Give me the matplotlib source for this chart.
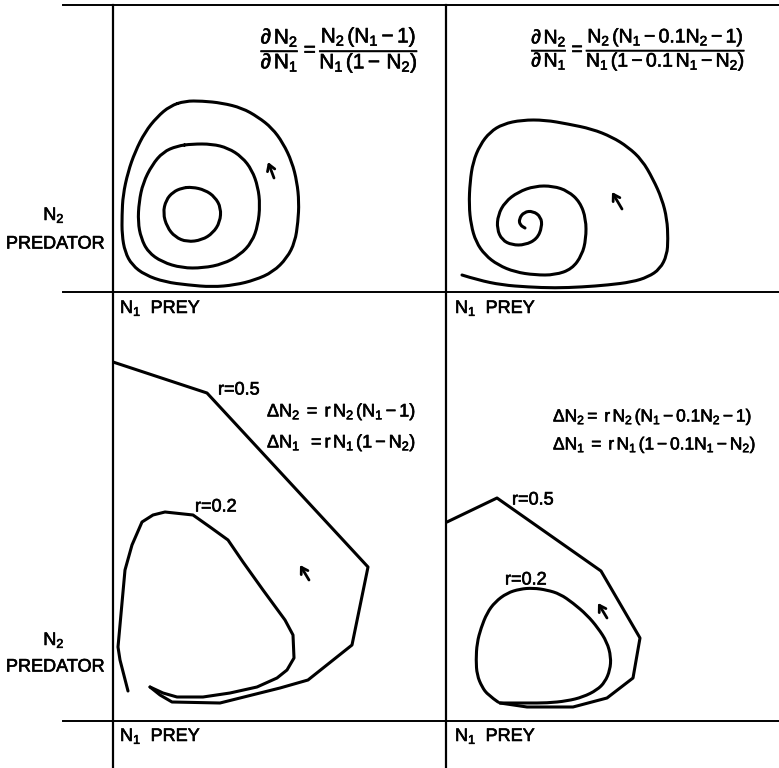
import matplotlib
matplotlib.use("Agg")
import matplotlib.pyplot as plt
import matplotlib.patheffects as pe
from matplotlib.lines import Line2D
from matplotlib.path import Path
from matplotlib.patches import PathPatch

plt.rcParams['font.family'] = ['Liberation Sans', 'DejaVu Sans']
plt.rcParams['mathtext.fontset'] = 'custom'
plt.rcParams['mathtext.rm'] = 'Liberation Sans'
plt.rcParams['mathtext.it'] = 'Liberation Sans'
plt.rcParams['mathtext.bf'] = 'Liberation Sans:bold'

# --- continuous model: closed orbits (N1 prey, N2 predator) ---
orbit_outer_n1 = [0.72, 0.89, 1.09, 1.29, 1.45, 1.59, 1.70, 1.79, 1.84, 1.86, 1.85, 1.82,
                  1.74, 1.60, 1.42, 1.22, 0.99, 0.75, 0.52, 0.32, 0.19, 0.12, 0.09, 0.09,
                  0.10, 0.15, 0.22, 0.32, 0.44, 0.57, 0.72]
orbit_outer_n2 = [1.91, 1.91, 1.89, 1.84, 1.75, 1.64, 1.49, 1.30, 1.10, 0.90, 0.70, 0.50,
                  0.34, 0.20, 0.12, 0.07, 0.05, 0.07, 0.10, 0.17, 0.27, 0.40, 0.57, 0.77,
                  0.97, 1.20, 1.40, 1.60, 1.75, 1.86, 1.91]
orbit_mid_n1 = [0.79, 0.99, 1.15, 1.29, 1.39, 1.45, 1.47, 1.45, 1.39, 1.27, 1.10, 0.90,
                0.69, 0.49, 0.35, 0.28, 0.25, 0.26, 0.30, 0.39, 0.50, 0.64, 0.79]
orbit_mid_n2 = [1.48, 1.48, 1.44, 1.35, 1.22, 1.05, 0.87, 0.67, 0.50, 0.37, 0.28, 0.24,
                0.24, 0.30, 0.40, 0.54, 0.70, 0.90, 1.09, 1.27, 1.40, 1.46, 1.48]
orbit_inner_n1 = [0.79, 0.92, 1.02, 1.08, 1.07, 1.00, 0.89, 0.74, 0.62, 0.54, 0.50, 0.53,
                  0.60, 0.69, 0.79]
orbit_inner_n2 = [1.05, 1.02, 0.95, 0.84, 0.70, 0.59, 0.52, 0.50, 0.55, 0.65, 0.79, 0.92,
                  1.00, 1.04, 1.05]

# --- continuous model with self-limitation: damped spiral ---
spiral_n1 = [0.16, 0.32, 0.56, 0.82, 1.09, 1.36, 1.62, 1.86, 2.02, 2.14, 2.21, 2.22, 2.21,
             2.16, 2.07, 1.96, 1.82, 1.66, 1.46, 1.22, 0.99, 0.76, 0.57, 0.44, 0.34, 0.27,
             0.24, 0.23, 0.25, 0.30, 0.39, 0.52, 0.69, 0.89, 1.09, 1.26, 1.36, 1.40, 1.40,
             1.34, 1.22, 1.07, 0.89, 0.72, 0.59, 0.52, 0.51, 0.56, 0.66, 0.79, 0.91, 0.96,
             0.95, 0.87, 0.78, 0.73, 0.74, 0.79]
spiral_n2 = [0.17, 0.12, 0.07, 0.05, 0.04, 0.05, 0.07, 0.10, 0.15, 0.23, 0.37, 0.53, 0.73,
             0.93, 1.13, 1.32, 1.45, 1.55, 1.63, 1.68, 1.72, 1.72, 1.68, 1.60, 1.47, 1.30,
             1.10, 0.87, 0.67, 0.50, 0.37, 0.27, 0.20, 0.17, 0.17, 0.23, 0.37, 0.53, 0.73,
             0.90, 1.01, 1.06, 1.06, 1.00, 0.90, 0.77, 0.63, 0.52, 0.47, 0.47, 0.53, 0.65,
             0.75, 0.81, 0.80, 0.73, 0.67, 0.64]

# --- difference model, r = 0.5 and r = 0.2 (straight steps) ---
diff_r05_n1 = [0.00, 0.94, 2.55, 2.39, 1.95, 1.67, 1.07, 0.59, 0.47, 0.37]
diff_r05_n2 = [3.59, 3.28, 1.54, 0.76, 0.41, 0.33, 0.18, 0.19, 0.26, 0.34]
diff_r02_n1 = [0.15, 0.07, 0.05, 0.12, 0.19, 0.29, 0.40, 0.52, 0.80, 0.97, 1.15, 1.30,
               1.50, 1.72, 1.80, 1.81, 1.74, 1.64, 1.44, 1.17, 0.90, 0.64, 0.50, 0.37]
diff_r02_n2 = [0.30, 0.61, 0.74, 1.51, 1.76, 1.99, 2.06, 2.09, 2.06, 1.94, 1.81, 1.59,
               1.31, 1.01, 0.86, 0.63, 0.51, 0.43, 0.34, 0.28, 0.24, 0.24, 0.28, 0.34]

# --- difference model with self-limitation ---
dlim_r05_n1 = [0.01, 0.51, 1.55, 1.94, 1.87, 1.61, 1.27, 0.81, 0.54]
dlim_r05_n2 = [1.99, 2.23, 1.50, 0.83, 0.43, 0.23, 0.14, 0.14, 0.18]
dlim_r02_n1 = [0.52, 0.42, 0.36, 0.31, 0.30, 0.31, 0.35, 0.41, 0.49, 0.61, 0.74, 0.87,
               1.01, 1.14, 1.27, 1.41, 1.52, 1.61, 1.65, 1.64, 1.59, 1.51, 1.37, 1.21,
               1.01, 0.81, 0.64, 0.54]
dlim_r02_n2 = [0.19, 0.26, 0.34, 0.46, 0.61, 0.78, 0.93, 1.08, 1.19, 1.28, 1.32, 1.33,
               1.31, 1.27, 1.18, 1.06, 0.93, 0.79, 0.64, 0.51, 0.39, 0.31, 0.24, 0.20,
               0.18, 0.18, 0.18, 0.18]

W, H = 779, 768
fig = plt.figure(figsize=(W / 100, H / 100), dpi=100)
fig.patch.set_facecolor('white')


def fx(x):
    return x / W


def fy(y):
    return 1 - y / H


def panel(left, top, right, bottom):
    ax = fig.add_axes([fx(left), fy(bottom), fx(right - left), (bottom - top) / H])
    ax.set_xlim(0, (right - left) / 100)
    ax.set_ylim(0, (bottom - top) / 100)
    ax.axis('off')
    return ax


def smooth_curve(ax, xs, ys, closed=False):
    # quadratic bezier through the traced points (points act as control points)
    pts = list(zip(xs, ys))
    mid = lambda a, b: ((a[0] + b[0]) / 2, (a[1] + b[1]) / 2)
    if closed:
        p = pts[:-1]
        n = len(p)
        verts = [mid(p[-1], p[0])]
        codes = [Path.MOVETO]
        for i in range(n):
            verts += [p[i], mid(p[i], p[(i + 1) % n])]
            codes += [Path.CURVE3, Path.CURVE3]
    else:
        verts = [pts[0]]
        codes = [Path.MOVETO]
        for i in range(1, len(pts) - 1):
            verts += [pts[i], mid(pts[i], pts[i + 1])]
            codes += [Path.CURVE3, Path.CURVE3]
        verts.append(pts[-1])
        codes.append(Path.LINETO)
    ax.add_patch(PathPatch(Path(verts, codes), fill=False, edgecolor='black', lw=2.2,
                           joinstyle='round', capstyle='round'))


ax_tl = panel(113, 5, 446, 292)
ax_tr = panel(446, 5, 779, 292)
ax_bl = panel(113, 292, 446, 721)
ax_br = panel(446, 292, 779, 721)

# frame lines of the 2x2 layout
for y in (5, 292, 721):
    fig.add_artist(Line2D([fx(63), fx(779)], [fy(y), fy(y)], color='black', lw=1.4,
                          transform=fig.transFigure))
for x in (113, 446):
    fig.add_artist(Line2D([fx(x), fx(x)], [fy(5), fy(768)], color='black', lw=1.6,
                          transform=fig.transFigure))

line_kw = dict(color='black', lw=2.2, solid_joinstyle='round', solid_capstyle='round')

smooth_curve(ax_tl, orbit_outer_n1, orbit_outer_n2, closed=True)
smooth_curve(ax_tl, orbit_mid_n1, orbit_mid_n2, closed=True)
smooth_curve(ax_tl, orbit_inner_n1, orbit_inner_n2, closed=True)
smooth_curve(ax_tr, spiral_n1, spiral_n2)
ax_bl.plot(diff_r05_n1, diff_r05_n2, **line_kw)
ax_bl.plot(diff_r02_n1, diff_r02_n2, **line_kw)
ax_br.plot(dlim_r05_n1, dlim_r05_n2, **line_kw)
smooth_curve(ax_br, dlim_r02_n1, dlim_r02_n2)

# direction arrows
arrow_kw = dict(arrowstyle='->,head_length=0.45,head_width=0.28', color='black', lw=2.0,
                shrinkA=0, shrinkB=0)
for ax, head, tail in ((ax_tl, (1.55, 1.30), (1.61, 1.14)),
                       (ax_tr, (1.66, 1.00), (1.76, 0.83)),
                       (ax_bl, (1.87, 1.56), (1.96, 1.41)),
                       (ax_br, (1.52, 1.18), (1.61, 1.03))):
    ax.annotate('', xy=head, xytext=tail, arrowprops=arrow_kw)

# slightly heavier lettering
ink = [pe.withStroke(linewidth=0.45, foreground='black')]
txt = dict(color='black', path_effects=ink)

# equations
ax_tl.text(2.27, 2.42,
           r'$\dfrac{\partial\, N_2}{\partial\, N_1} = \dfrac{N_2\,(N_1 - 1)}{N_1\,(1 -\, N_2)}$',
           ha='center', va='center', fontsize=15, **txt)
ax_tr.text(1.93, 2.42,
           r'$\dfrac{\partial\, N_2}{\partial\, N_1} = \dfrac{N_2\,(N_1 - 0.1N_2 - 1)}{N_1\,(1 - 0.1\,N_1 - N_2)}$',
           ha='center', va='center', fontsize=14, **txt)
ax_bl.text(1.54, 3.09, r'$\Delta N_2\; =\; r\,N_2\,(N_1 - 1)$', ha='left', va='center',
           fontsize=13, **txt)
ax_bl.text(1.54, 2.78, r'$\Delta N_1\;\; = r\,N_1\,(1 - N_2)$', ha='left', va='center',
           fontsize=13, **txt)
ax_br.text(1.07, 3.04, r'$\Delta N_2 = \;r\,N_2\,(N_1 - 0.1N_2 - 1)$', ha='left', va='center',
           fontsize=12.5, **txt)
ax_br.text(1.07, 2.76, r'$\Delta N_1\; = \;r\,N_1\,(1 - 0.1N_1 - N_2)$', ha='left', va='center',
           fontsize=12.5, **txt)

# growth-rate labels
lab_size = 13
ax_bl.text(1.05, 3.31, 'r=0.5', ha='left', va='center', fontsize=lab_size, **txt)
ax_bl.text(0.82, 2.14, 'r=0.2', ha='left', va='center', fontsize=lab_size, **txt)
ax_br.text(0.66, 2.21, 'r=0.5', ha='left', va='center', fontsize=lab_size, **txt)
ax_br.text(0.59, 1.41, 'r=0.2', ha='left', va='center', fontsize=lab_size, **txt)

# axis captions
for x, y in ((120, 308), (455, 308), (120, 736), (455, 736)):
    fig.text(fx(x), fy(y), r'$N_1$  PREY', ha='left', va='center', fontsize=13, **txt)
for y_n2, y_pred in ((215, 244), (640, 667)):
    fig.text(fx(54), fy(y_n2), r'$N_2$', ha='center', va='center', fontsize=13, **txt)
    fig.text(fx(55), fy(y_pred), 'PREDATOR', ha='center', va='center', fontsize=13, **txt)

fig.savefig('out.png', dpi=100, facecolor='white')
